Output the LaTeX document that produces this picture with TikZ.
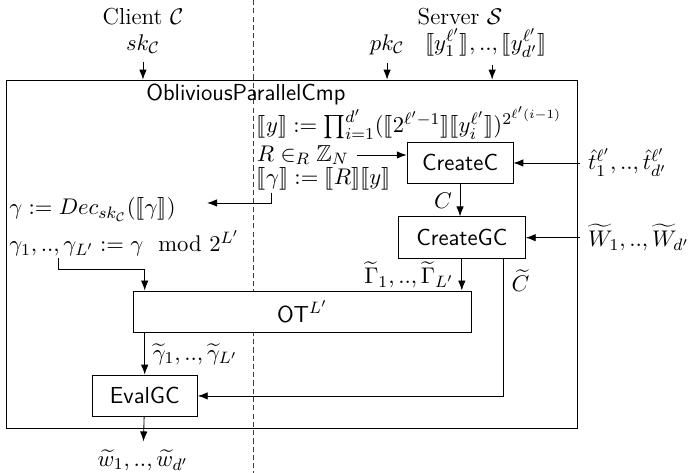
\documentclass[tikz,border=0pt]{standalone}
\usepackage{amsmath,amssymb}
\usepackage{stmaryrd}
\usepackage{tikz}
\usetikzlibrary{arrows.meta,positioning,calc}

\begin{document}
\fontsize{11.2}{13.4}\selectfont
\begin{tikzpicture}[auto, >=Latex,
  blk/.style={draw, fill=white, minimum height=0.71cm, font=\sffamily},
  party/.style={dash pattern=on 2.5pt off 1.5pt, black!75}]
  \useasboundingbox (0,0) rectangle (11.78,8.04);

  % Split between client and server
  \coordinate (divtop) at (4.30,8.04);
  \coordinate (divbot) at (4.30,0);
  \draw[party] (divtop) -- (divbot);

  % Define coordinates for nodes
  \node[anchor=base] (client) at (2.43,7.62) {Client $\mathcal{C}$};
  \node[anchor=base] (sk) at (2.43,7.19) {$sk_{\mathcal{C}}$};
  \node[anchor=base] (server) at (7.82,7.62) {Server $\mathcal{S}$};
  \node[anchor=base] (pk) at (6.58,7.19) {$pk_{\mathcal{C}}$};
  \node[anchor=base] (ylist) at (8.26,7.19) {$\llbracket y_1^{\ell'}\rrbracket, .., \llbracket y_{d'}^{\ell'}\rrbracket$};

  \node[draw, minimum width=9.71cm, minimum height=5.92cm] (OPC) at (4.96,3.72) {};
  \node[anchor=base, font=\sffamily] (title) at (4.18,6.34) {ObliviousParallelCmp};

  \node[anchor=base west] (prod) at (4.23,5.78) {$\llbracket y\rrbracket := \prod_{i=1}^{d'}(\llbracket 2^{\ell'-1}\rrbracket\llbracket y_i^{\ell'}\rrbracket)^{2^{\ell'(i-1)}}$};
  \node[anchor=base west] (rand) at (4.23,5.30) {$R \in_R \mathbb{Z}_N$};
  \node[anchor=base west] (mask) at (4.23,4.91) {$\llbracket\gamma\rrbracket := \llbracket R\rrbracket\llbracket y\rrbracket$};

  \node[blk, minimum width=1.80cm] (CreateC) at (7.82,5.27) {CreateC};
  \node[blk, minimum width=2.16cm] (CreateGC) at (7.85,4.00) {CreateGC};
  \node[blk, minimum width=5.76cm] (OT) at (5.14,2.74) {OT$^{L'}$};
  \node[blk, minimum width=1.79cm] (EvalGC) at (2.46,1.31) {EvalGC};

  \node[anchor=west] (tlist) at (9.86,5.27) {$\hat{t}_1^{\ell'}, .., \hat{t}_{d'}^{\ell'}$};
  \node[anchor=west] (Wlist) at (9.86,4.00) {$\widetilde{W}_1, .., \widetilde{W}_{d'}$};

  \node[anchor=base west] (dec) at (0.02,4.39) {$\gamma := Dec_{sk_{\mathcal{C}}}(\llbracket\gamma\rrbracket)$};
  \node[anchor=base west] (modl) at (0.02,3.76) {$\gamma_1, .., \gamma_{L'} := \gamma \mod 2^{L'}$};
  \node (wout) at (2.43,0.22) {$\widetilde{w}_1, .., \widetilde{w}_{d'}$};

  \coordinate (gstart) at (4.61,4.76);
  \coordinate (decin) at (3.52,4.59);
  \coordinate (g1) at (1.00,3.655);

  % Draw arrows between nodes
  \draw[->] (sk) -- (sk |- OPC.north);
  \draw[->] (pk) -- (pk |- OPC.north);
  \draw[->] ([xshift=3pt]ylist.south) -- ([xshift=3pt]ylist.south |- OPC.north);
  \draw[->] (rand.east) -- (rand.east -| CreateC.west);
  \draw[->] (tlist.west) -- (tlist.west -| CreateC.east);
  \draw[->] (Wlist.west) -- (Wlist.west -| CreateGC.east);
  \draw[->] (CreateC.south) -- node[left] {$C$} (CreateC.south |- CreateGC.north);
  \draw[->] (CreateGC.south) -- node[left] {$\widetilde{\Gamma}_1, .., \widetilde{\Gamma}_{L'}$} (CreateGC.south |- OT.north);
  \draw[->] ([xshift=0.71cm]CreateGC.south) |- node[right, pos=0.08] {$\widetilde{C}$} (EvalGC.east);
  \draw[->] (gstart) |- (decin);
  \draw[->] (g1) -- ++(0,-0.2) -| (EvalGC.north |- OT.north);
  \draw[->] (EvalGC.north |- OT.south) -- node[right] {$\widetilde{\gamma}_1, .., \widetilde{\gamma}_{L'}$} (EvalGC.north);
  \draw[->] (EvalGC) -- (wout);
\end{tikzpicture}
\end{document}
